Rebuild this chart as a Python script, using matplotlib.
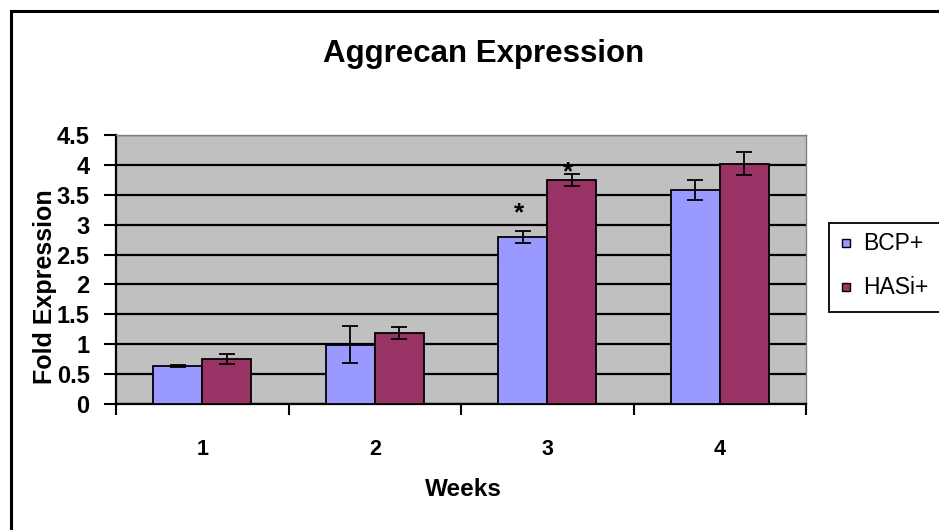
import matplotlib
matplotlib.use("Agg")
import matplotlib.pyplot as plt
import numpy as np
from matplotlib.patches import Rectangle
from matplotlib.lines import Line2D

plt.rcParams['font.family'] = ['Liberation Sans', 'DejaVu Sans']

weeks = ["1", "2", "3", "4"]
bcp = [0.64, 0.99, 2.80, 3.58]
bcp_err = [0.02, 0.31, 0.10, 0.17]
hasi = [0.75, 1.19, 3.74, 4.02]
hasi_err = [0.08, 0.10, 0.10, 0.19]
series_names = ["BCP+", "HASi+"]
star_labels = [(2, "BCP+", 2.99), (2, "HASi+", 3.67)]

c_bcp = "#9999FF"
c_hasi = "#993366"

fig = plt.figure(figsize=(9.39, 5.30), dpi=100)
W, H = 939, 530

# outer chart border (left and top edges)
fig.add_artist(Line2D([11 / W, 11 / W], [0, 1 - 11 / H], color="black", lw=2.2,
                      transform=fig.transFigure))
fig.add_artist(Line2D([11 / W, 1], [1 - 11 / H, 1 - 11 / H], color="black", lw=2.2,
                      transform=fig.transFigure))

ax = fig.add_axes([116 / W, 1 - 404 / H, (806 - 116) / W, (404 - 135) / H])
ax.set_facecolor("#C0C0C0")

x = np.arange(len(weeks))
bw = 0.284
ekw = dict(ecolor="black", elinewidth=1.3, capsize=6, capthick=1.3)
ax.bar(x - bw / 2, bcp, bw, color=c_bcp, edgecolor="black", linewidth=1.3,
       yerr=bcp_err, error_kw=ekw, zorder=3)
ax.bar(x + bw / 2, hasi, bw, color=c_hasi, edgecolor="black", linewidth=1.3,
       yerr=hasi_err, error_kw=ekw, zorder=3)

for idx, name, yv in star_labels:
    off = -bw / 2 if name == "BCP+" else bw / 2
    ax.text(idx + off - 0.02, yv, "*", ha="center", va="bottom", fontsize=19,
            fontweight="bold", zorder=5)

ax.set_xlim(-0.5, len(weeks) - 0.5)
ax.set_ylim(0, 4.5)
ax.set_yticks(np.arange(0, 4.51, 0.5))
ax.set_yticklabels(["0", "0.5", "1", "1.5", "2", "2.5", "3", "3.5", "4", "4.5"])
ax.yaxis.grid(True, color="black", lw=1.6, zorder=1)
ax.set_axisbelow(True)

ax.set_xticks(np.arange(-0.5, len(weeks), 1.0))
ax.set_xticklabels([])
ax.set_xticks(x, minor=True)
ax.set_xticklabels(weeks, minor=True, fontsize=15.5, fontweight="bold")
ax.tick_params(axis="x", which="major", direction="out", length=8, width=1.5)
ax.tick_params(axis="x", which="minor", length=0, pad=25)
ax.tick_params(axis="y", direction="out", length=9, width=1.5, labelsize=17, pad=10)
for lab in ax.get_yticklabels():
    lab.set_fontweight("bold")

for s in ["left", "bottom"]:
    ax.spines[s].set_color("black")
    ax.spines[s].set_linewidth(1.6)
for s in ["top", "right"]:
    ax.spines[s].set_color("#808080")
    ax.spines[s].set_linewidth(1.0)

fig.text(484 / W, 1 - 54 / H, "Aggrecan Expression", ha="center", va="center",
         fontsize=22.5, fontweight="bold")
fig.text(463 / W, 1 - 489 / H, "Weeks", ha="center", va="center",
         fontsize=17.5, fontweight="heavy")
fig.text(45 / W, 1 - 287 / H, "Fold Expression", ha="center", va="center",
         rotation=90, fontsize=18, fontweight="bold")

# legend box
lx0, ly0, lx1, ly1 = 829, 223, 945, 312
fig.add_artist(Rectangle((lx0 / W, 1 - ly1 / H), (lx1 - lx0) / W, (ly1 - ly0) / H,
                         transform=fig.transFigure, facecolor="white",
                         edgecolor="black", lw=1.3))
for name, col, yy in [(series_names[0], c_bcp, 243), (series_names[1], c_hasi, 287)]:
    fig.add_artist(Rectangle((842 / W, 1 - (yy + 4) / H), 8 / W, 8 / H,
                             transform=fig.transFigure, facecolor=col,
                             edgecolor="black", lw=1.0))
    fig.text(863 / W, 1 - yy / H, name, ha="left", va="center", fontsize=16.5)

fig.savefig("out.png", dpi=100)
